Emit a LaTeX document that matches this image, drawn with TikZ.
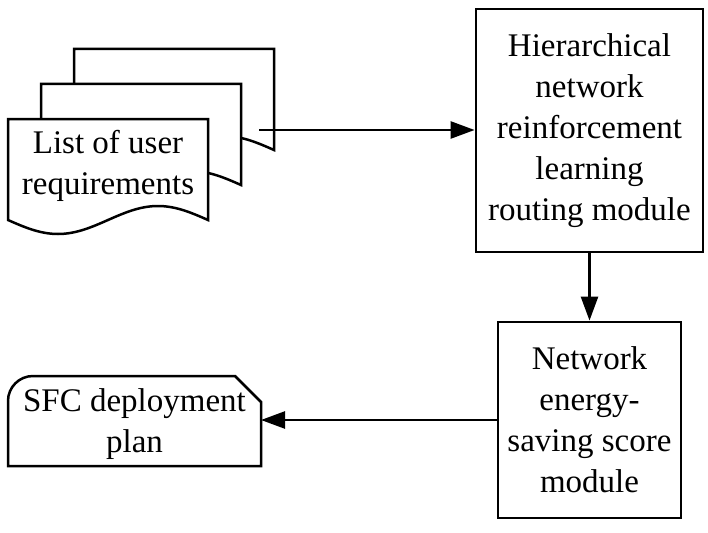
\documentclass[tikz,border=0pt]{standalone}
\usepackage{fontspec}
\setmainfont{Liberation Serif}
\usetikzlibrary{arrows.meta}
\begin{document}
\begin{tikzpicture}[x=1pt,y=-1pt,
  lbl/.style={font=\fontsize{33}{41}\selectfont, align=center, inner sep=0pt},
  box/.style={lbl, draw, line width=2.8pt},
  doc/.style={draw, line width=2.5pt, fill=white, line join=miter},
  conn/.style={line width=2.5pt, -{Triangle[length=24pt,width=17pt]}}]
\useasboundingbox (0,0) rectangle (708,532);
% stacked documents (back, middle, front)
\foreach \dx/\dy in {66/-70, 33/-35, 0/0}{
  \draw[doc, shift={(\dx,\dy)}] (8,119) -- (208,119) -- (208,220)
     sin (158,206) cos (108,220) sin (58,234) cos (8,220) -- cycle;
}
\node[lbl] (req) at (108,165.5) {List of user\\requirements};
\coordinate (tail) at (259,130);
% processing boxes
\node[box, minimum width=227pt, minimum height=243pt] (hier) at (589.5,130.5)
  {Hierarchical\\network\\reinforcement\\learning\\routing module};
\node[box, minimum width=183pt, minimum height=196pt] (nes) at (589.5,420)
  {Network\\energy-\\saving score\\module};
% output shape
\draw[doc] (8,466) -- (8,401) arc[start angle=180, end angle=270, radius=25]
   -- (235,376) -- (261,402) -- (261,466) -- cycle;
\node[lbl] (sfc) at (134.5,424) {SFC deployment\\plan};
\coordinate (sfcE) at (261,420);
% connectors
\draw[conn] (tail) -- (tail -| hier.west);
\draw[conn] (hier.south) -- (nes.north);
\draw[conn] (nes.west) -- (sfcE);
\end{tikzpicture}
\end{document}
